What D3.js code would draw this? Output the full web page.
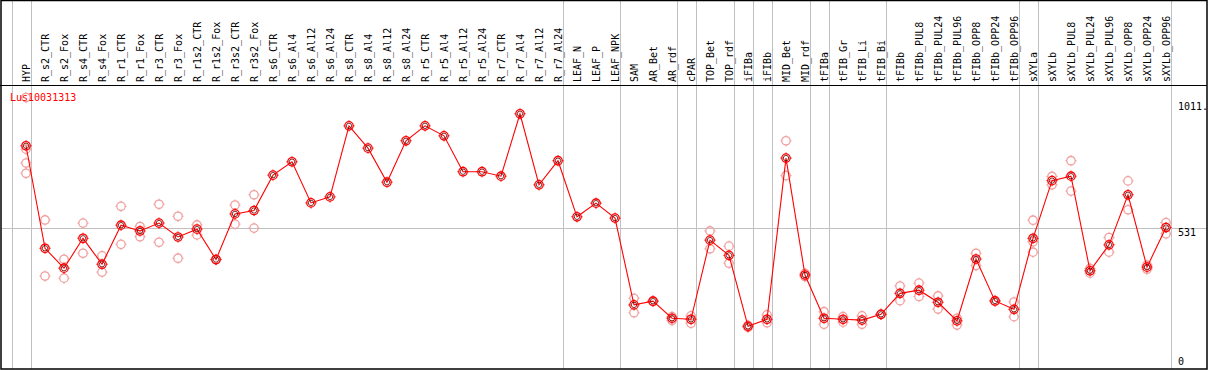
<!DOCTYPE html>
<html>
<head>
<meta charset="utf-8">
<script src="https://cdn.jsdelivr.net/npm/d3@7"></script>
<style>
  body { margin: 0; background: #fff; }
  text { font-family: "DejaVu Sans Mono", "Liberation Mono", monospace; font-size: 10px; }
</style>
</head>
<body>
<div id="chart"></div>
<script>
var gene = "Lus10031313";

var categories = ["HYP", "R_s2_CTR", "R_s2_Fox", "R_s4_CTR", "R_s4_Fox", "R_r1_CTR", "R_r1_Fox",
  "R_r3_CTR", "R_r3_Fox", "R_r1s2_CTR", "R_r1s2_Fox", "R_r3s2_CTR", "R_r3s2_Fox", "R_s6_CTR",
  "R_s6_Al4", "R_s6_Al12", "R_s6_Al24", "R_s8_CTR", "R_s8_Al4", "R_s8_Al12", "R_s8_Al24",
  "R_r5_CTR", "R_r5_Al4", "R_r5_Al12", "R_r5_Al24", "R_r7_CTR", "R_r7_Al4", "R_r7_Al12",
  "R_r7_Al24", "LEAF_N", "LEAF_P", "LEAF_NPK", "SAM", "AR_Bet", "AR_rdf", "cPAR", "TOP_Bet",
  "TOP_rdf", "iFIBa", "iFIBb", "MID_Bet", "MID_rdf", "tFIBa", "tFIB_Gr", "tFIB_Li", "tFIB_Bi",
  "tFIBb", "tFIBb_PUL8", "tFIBb_PUL24", "tFIBb_PUL96", "tFIBb_OPP8", "tFIBb_OPP24", "tFIBb_OPP96",
  "sXYLa", "sXYLb", "sXYLb_PUL8", "sXYLb_PUL24", "sXYLb_PUL96", "sXYLb_OPP8", "sXYLb_OPP24",
  "sXYLb_OPP96"];

var means = [844, 453, 377, 491, 392, 541, 519, 549, 496, 526, 410, 584, 597, 732,
  783, 626, 649, 920, 835, 705, 863, 920, 882, 745, 745, 728, 966, 695,
  787, 573, 625, 568, 237, 251, 186, 182, 484,
  426, 155, 182, 797, 351, 186, 182, 179, 201,
  281, 293, 247, 176, 412, 252, 220,
  491, 711, 728, 367, 466, 657, 381,
  532];

// replicate values, null where the sample has no replicate drawn
var rep1 = [1028, 561, 411, 549, 424, 613, 536, 621, 575, 542, 410, 618, 657, null,
  null, null, null, null, null, null, null, null, null, null, null, null, null, null,
  null, null, null, null, 262, 251, 192, 195, 519,
  461, 159, 199, 863, 345, 211, 192, 195, 201,
  309, 320, 271, 186, 434, 252, 248,
  560, 727, 787, 358, 494, 710, 373,
  551];
var rep2 = [831, 347, 339, 434, 362, 468, 497, 476, 415, 504, 410, 545, 530, null,
  null, null, null, null, null, null, null, null, null, null, null, null, null, null,
  null, null, null, null, 207, 251, 177, 167, 451,
  396, 151, 169, 730, 357, 163, 171, 163, 201,
  253, 269, 221, 160, 387, 252, 192,
  478, 695, 671, 376, 438, 600, 389,
  508];
var rep3 = [778, null, null, null, null, null, null, null, null, null, null, null, null, null,
  null, null, null, null, null, null, null, null, null, null, null, null, null, null,
  null, null, null, null, null, null, null, null, null,
  null, null, null, null, null, null, null, null, null,
  null, null, null, null, null, null, null,
  438, null, null, null, null, null, null,
  null];
var rep4 = [739];

// last sample of each group, a grey rule is drawn after it
var groupEnds = ["HYP", "R_r7_Al24", "LEAF_NPK", "AR_rdf", "cPAR", "TOP_rdf", "iFIBa", "iFIBb",
  "MID_rdf", "tFIBa", "tFIB_Bi", "tFIBb_OPP96", "sXYLa", "sXYLb_OPP96"];

var yTicks = [0, 531, 1011];
var yTickLabels = ["0", "531", "1011."];

var width = 1209, height = 370;
var headerBottom = 85, plotRight = 1207, plotBottom = 369;

var svg = d3.select("#chart").append("svg")
  .attr("width", width)
  .attr("height", height);

var x = d3.scalePoint().domain(categories).range([26, 1166]);
var step = x.step();
var y = d3.scaleLinear().domain([0, 1011]).range([367, 102]);

// vertical group rules
var rules = [x(categories[0]) - step + 4.5].concat(groupEnds.map(function(c){ return x(c) + 4.5; }));
svg.append("g").selectAll("line")
  .data(rules)
  .enter().append("line")
    .attr("x1", function(d){ return Math.round(d) + 0.5; })
    .attr("x2", function(d){ return Math.round(d) + 0.5; })
    .attr("y1", 0)
    .attr("y2", plotBottom)
    .attr("stroke", "#c0c0c0")
    .attr("stroke-width", 1);

// horizontal rule at the middle tick
svg.append("line")
  .attr("x1", 1).attr("x2", plotRight)
  .attr("y1", Math.round(y(531)) + 0.5).attr("y2", Math.round(y(531)) + 0.5)
  .attr("stroke", "#c0c0c0");

// frame
svg.append("rect")
  .attr("x", 1).attr("y", 0.5)
  .attr("width", plotRight - 1).attr("height", plotBottom - 0.5)
  .attr("fill", "none").attr("stroke", "#000").attr("stroke-width", 1.5);
svg.append("line")
  .attr("x1", 0).attr("x2", plotRight)
  .attr("y1", headerBottom + 0.5).attr("y2", headerBottom + 0.5)
  .attr("stroke", "#000").attr("stroke-width", 1.2);

// sample labels in the header
svg.append("g").selectAll("text")
  .data(categories)
  .enter().append("text")
    .attr("transform", function(d){ return "translate(" + x(d) + "," + (headerBottom - 3) + ") rotate(-90)"; })
    .attr("dy", "0.35em")
    .attr("text-anchor", "start")
    .attr("fill", "#000")
    .text(function(d){ return d; });

// right axis labels
var yAxis = svg.append("g")
  .attr("transform", "translate(1176,0)")
  .call(d3.axisRight(y).tickValues(yTicks).tickSize(0)
    .tickFormat(function(d, i){ return yTickLabels[i]; }));
yAxis.select(".domain").remove();
yAxis.selectAll("text")
  .attr("x", 2)
  .attr("fill", "#000")
  .attr("font-family", "DejaVu Sans Mono, monospace")
  .attr("font-size", "10px")
  .attr("dy", function(d){ return d === 0 ? "-0.25em" : "0.75em"; });

function marker(g, color, ring) {
  g.append("circle").attr("r", 4.2).attr("fill", "none")
    .attr("stroke", color).attr("stroke-width", 1.3);
  g.append("path")
    .attr("d", "M0,-5.6V-4.2 M0,4.2V5.6 M-5.6,0H-4.2 M4.2,0H5.6")
    .attr("stroke", color).attr("stroke-width", 1);
  if (ring) {
    g.append("circle").attr("r", 2.7).attr("fill", "none")
      .attr("stroke", ring).attr("stroke-width", 0.8);
  }
}

// replicates
var reps = [];
[rep1, rep2, rep3, rep4].forEach(function(arr){
  arr.forEach(function(v, i){
    if (v !== null && v !== undefined) reps.push({ c: categories[i], v: v });
  });
});
svg.append("g").selectAll("g")
  .data(reps)
  .enter().append("g")
    .attr("transform", function(d){ return "translate(" + x(d.c) + "," + y(d.v) + ")"; })
    .each(function(){ marker(d3.select(this), "#f0a0a0", null); });

// mean line
var line = d3.line()
  .x(function(d, i){ return x(categories[i]); })
  .y(function(d){ return y(d); });
svg.append("path")
  .datum(means)
  .attr("d", line)
  .attr("fill", "none")
  .attr("stroke", "#ff0000")
  .attr("stroke-width", 1.1);

svg.append("g").selectAll("g")
  .data(means)
  .enter().append("g")
    .attr("transform", function(d, i){ return "translate(" + x(categories[i]) + "," + y(d) + ")"; })
    .each(function(){ marker(d3.select(this), "#ff0000", "#600000"); });

// gene name
svg.append("text")
  .attr("x", 10).attr("y", 101)
  .attr("fill", "#ff0000")
  .text(gene);
</script>
</body>
</html>
